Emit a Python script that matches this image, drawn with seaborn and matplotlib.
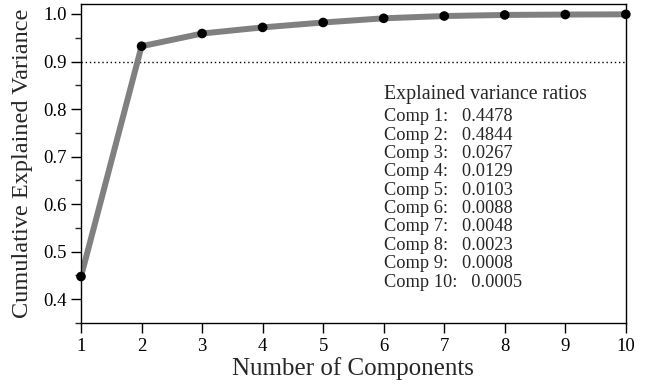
import numpy as np
import pandas as pd
import matplotlib
matplotlib.use("Agg")
import matplotlib.pyplot as plt
from matplotlib.ticker import MultipleLocator, FormatStrFormatter
import seaborn as sns

components = [1, 2, 3, 4, 5, 6, 7, 8, 9, 10]
ratios = [0.4478, 0.4844, 0.0267, 0.0129, 0.0103, 0.0088, 0.0048, 0.0023, 0.0008, 0.0005]
threshold = 0.9

cumulative = np.cumsum(ratios)
df = pd.DataFrame({"component": components, "cumulative": cumulative})

sns.set_theme(style="ticks")
plt.rcParams["font.family"] = ["Liberation Serif", "DejaVu Serif"]

fig = plt.figure(figsize=(6.56, 3.85), dpi=100)
ax = fig.add_axes([0.1235, 0.161, 0.8305, 0.8286])

sns.lineplot(data=df, x="component", y="cumulative", color="#808080",
             linewidth=4.3, ax=ax, zorder=2)
sns.scatterplot(data=df, x="component", y="cumulative", color="black",
                s=48, edgecolor="none", ax=ax, zorder=3, clip_on=False)
ax.axhline(threshold, color="black", linestyle=(0, (1, 2)), linewidth=1.0, zorder=1)

ax.set_xlim(1, 10)
ax.set_ylim(0.35, 1.021)
ax.xaxis.set_major_locator(MultipleLocator(1))
ax.yaxis.set_major_locator(MultipleLocator(0.1))
ax.yaxis.set_minor_locator(MultipleLocator(0.05))
ax.yaxis.set_major_formatter(FormatStrFormatter("%.1f"))

for side in ["top", "right", "left", "bottom"]:
    ax.spines[side].set_visible(True)
    ax.spines[side].set_color("black")
    ax.spines[side].set_linewidth(1.0)

ax.tick_params(axis="both", which="major", direction="out", length=7.5, width=1.0,
               labelsize=13.5, colors="black", pad=3)
ax.tick_params(axis="y", which="minor", direction="out", length=4, width=1.0)

ax.set_xlabel("Number of Components", fontsize=18, labelpad=2)
ax.set_ylabel("Cumulative Explained Variance", fontsize=17.5, labelpad=7)

x0 = 0.556
ax.text(x0, 0.715, "Explained variance ratios", transform=ax.transAxes,
        fontsize=14.3, va="center", ha="left")
y1, dy = 0.646, 0.0575
for i, (c, r) in enumerate(zip(components, ratios)):
    ax.text(x0, y1 - dy * i, f"Comp {c}:   {r:.4f}", transform=ax.transAxes,
            fontsize=13.2, va="center", ha="left")

fig.savefig("out.png", dpi=100)
